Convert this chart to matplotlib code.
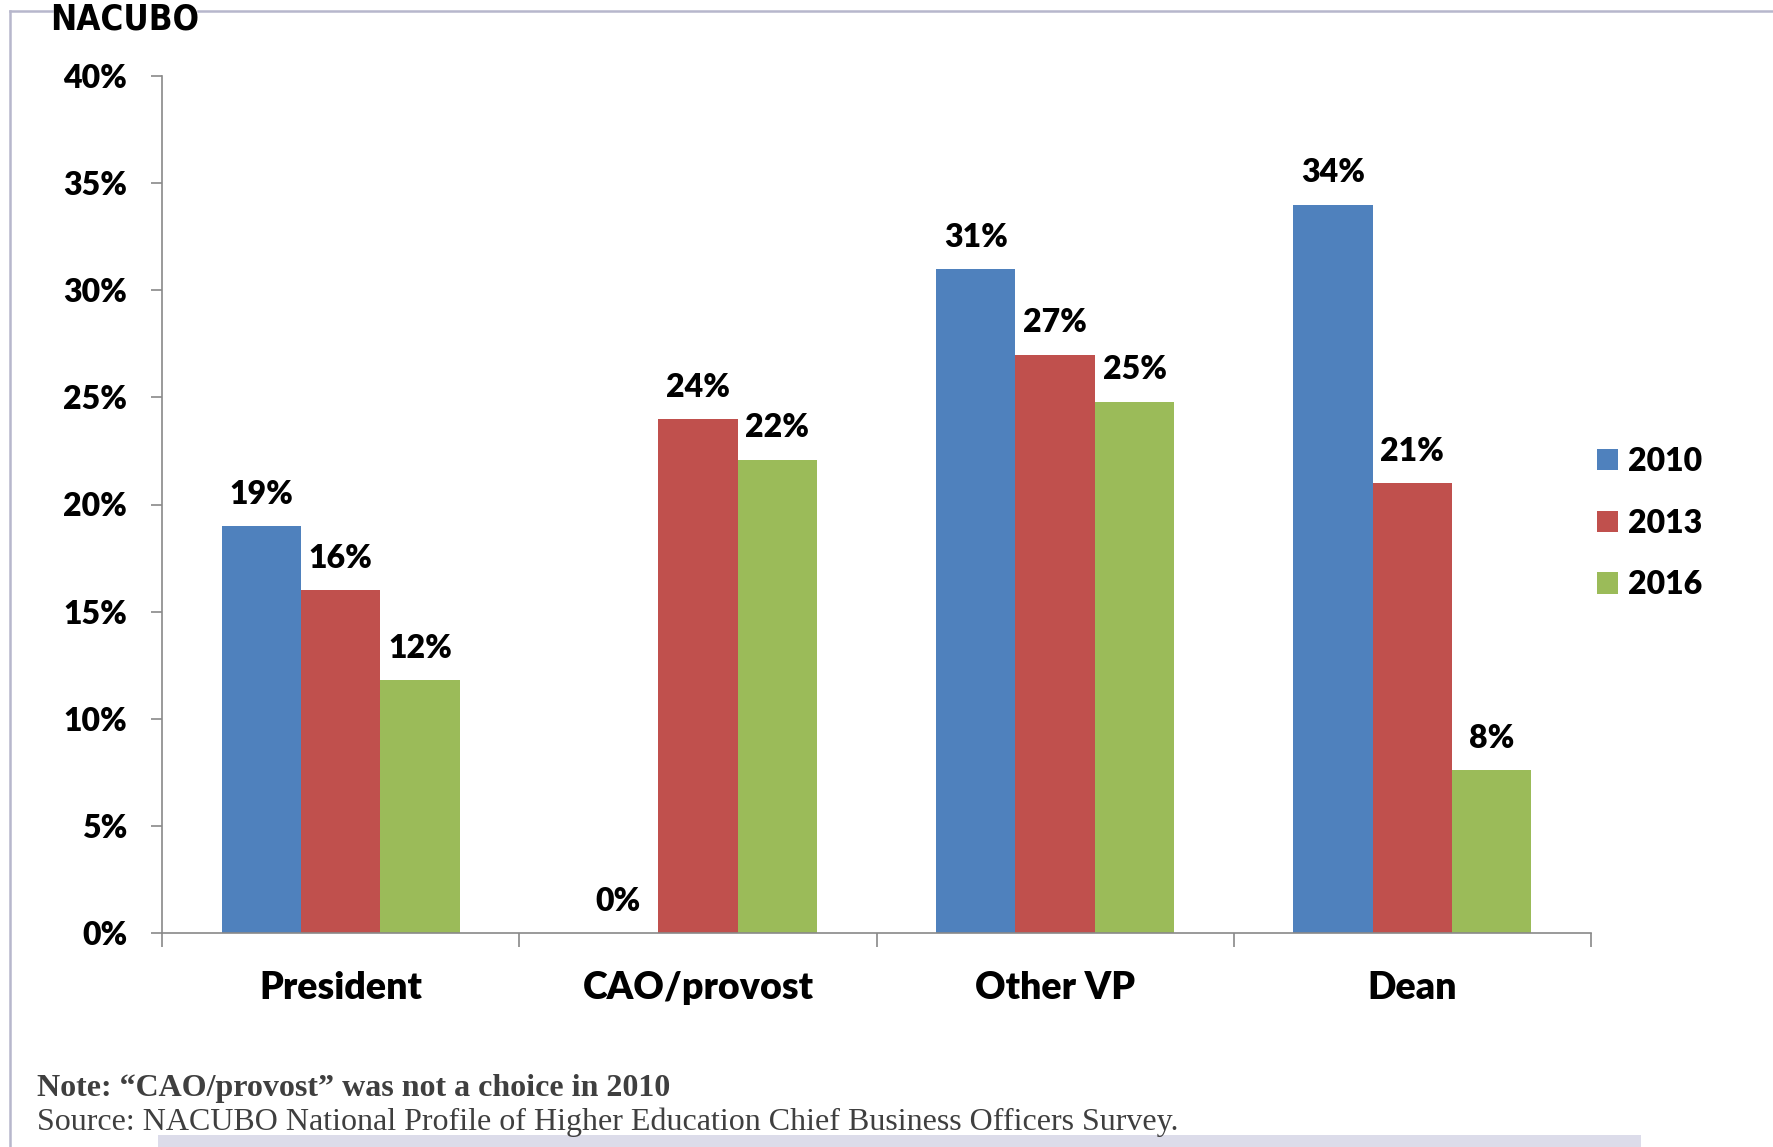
import matplotlib
matplotlib.use("Agg")
import matplotlib.pyplot as plt
from matplotlib.lines import Line2D
from matplotlib.patches import Rectangle
import matplotlib.transforms as mtransforms
import numpy as np

# Data: share of chief business officers reporting each prior position
categories = ["President", "CAO/provost", "Other VP", "Dean"]
years = ["2010", "2013", "2016"]
values_2010 = [19.0, 0.0, 31.0, 34.0]
values_2013 = [16.0, 24.0, 27.0, 21.0]
values_2016 = [11.8, 22.1, 24.8, 7.6]
yticks = [0, 5, 10, 15, 20, 25, 30, 35, 40]
note_text = "Note: \u201cCAO/provost\u201d was not a choice in 2010"
source_text = "Source: NACUBO National Profile of Higher Education Chief Business Officers Survey."

colors = ["#4F81BD", "#C0504D", "#9BBB59"]
series = [values_2010, values_2013, values_2016]

W, H = 1773, 1147
fig = plt.figure(figsize=(W / 100, H / 100), dpi=100)
fig.patch.set_facecolor("white")

def fx(px):
    return px / W

def fy(py):
    return 1 - py / H

LABEL_FONT = "Lato"
LABEL_WEIGHT = "heavy"
axis_gray = "#898989"

ax = fig.add_axes([fx(162), fy(933), fx(1591) - fx(162), fy(76) - fy(933)])
ax.set_xlim(0, len(categories))
ax.set_ylim(0, 40)

n = len(years)
bar_w = 1 / 4.5  # gap width of 150%
x = np.arange(len(categories)) + 0.5
for i, (vals, col) in enumerate(zip(series, colors)):
    pos = x + (i - (n - 1) / 2) * bar_w
    ax.bar(pos, vals, width=bar_w, color=col, edgecolor="none", label=years[i], zorder=2)
    for px_, v in zip(pos, vals):
        ax.annotate(f"{v:.0f}%", xy=(px_, v), xytext=(0, 16), textcoords="offset points",
                    ha="center", va="baseline", fontsize=23, fontweight=LABEL_WEIGHT,
                    family=LABEL_FONT, color="black")

# Axes styling
for side in ["top", "right"]:
    ax.spines[side].set_visible(False)
for side in ["left", "bottom"]:
    ax.spines[side].set_color(axis_gray)
    ax.spines[side].set_linewidth(1.2)

ax.set_yticks(yticks)
ax.set_yticklabels([f"{t}%" for t in yticks])
ax.tick_params(axis="y", direction="out", length=8, width=1.2, color=axis_gray, pad=17,
               labelsize=23)
for lab in ax.get_yticklabels():
    lab.set_fontweight(LABEL_WEIGHT)
    lab.set_family(LABEL_FONT)

ax.set_xticks(np.arange(len(categories) + 1))
ax.set_xticklabels([])
ax.tick_params(axis="x", direction="out", length=10, width=1.2, color=axis_gray)

# Category labels under each group
trans = mtransforms.blended_transform_factory(ax.transData, fig.transFigure)
for xi, cat in zip(x, categories):
    ax.text(xi, fy(999), cat, transform=trans, ha="center", va="baseline",
            fontsize=27, fontweight=LABEL_WEIGHT, family=LABEL_FONT, color="black")

# Legend
leg = fig.legend(loc="center left", bbox_to_anchor=(fx(1597), fy(523)), frameon=False,
                 borderpad=0, borderaxespad=0, handlelength=0.66, handleheight=0.66,
                 handletextpad=0.32, labelspacing=1.02,
                 prop={"family": LABEL_FONT, "weight": LABEL_WEIGHT, "size": 23})

# Frame lines
frame_col = "#B7B7CC"
fig.add_artist(Line2D([fx(10), fx(10)], [fy(11), 0], color=frame_col, lw=1.8))
fig.add_artist(Line2D([fx(10), fx(52)], [fy(11), fy(11)], color=frame_col, lw=1.8))
fig.add_artist(Line2D([fx(198), fx(W)], [fy(11), fy(11)], color=frame_col, lw=1.8))

# Logo wordmark at top left
fig.text(fx(125), fy(30), "NACUBO", ha="center", va="baseline", fontsize=25,
         fontweight="bold", family="DejaVu Sans", fontstretch="condensed", color="black")

# Notes
fig.text(fx(37), fy(1096), note_text, ha="left", va="baseline", fontsize=23,
         fontweight="bold", family="Liberation Serif", color="#3F3F3F")
fig.text(fx(37), fy(1130), source_text, ha="left", va="baseline", fontsize=23,
         family="Liberation Serif", color="#3F3F3F")

# Bottom band
fig.add_artist(Rectangle((fx(158), 0), fx(1641) - fx(158), fy(1135), transform=fig.transFigure,
                         facecolor="#DCDCEA", edgecolor="none"))

fig.savefig("out.png", dpi=100)
